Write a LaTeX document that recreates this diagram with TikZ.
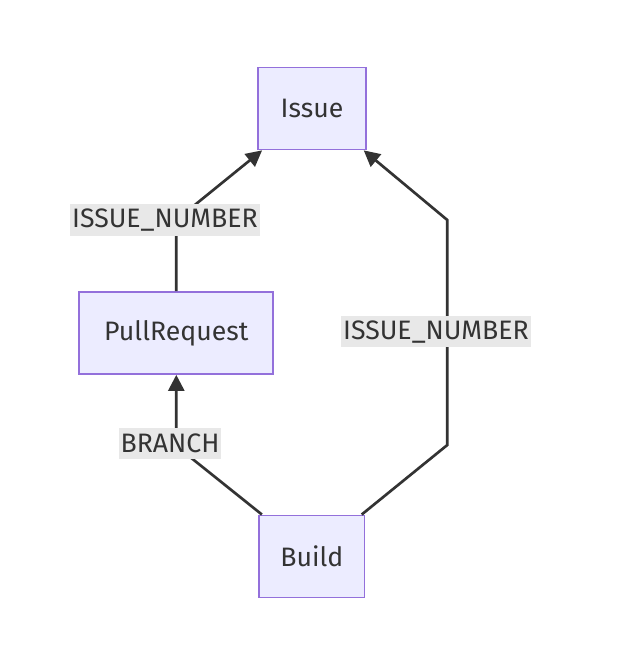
\documentclass[tikz,border=0pt]{standalone}
\usepackage{fontspec}
\setmainfont{Fira Sans}
\usepackage{xcolor}
\usepackage{tikz}
\usetikzlibrary{arrows.meta}
\definecolor{boxfill}{HTML}{ECECFF}
\definecolor{boxline}{HTML}{9370DB}
\definecolor{labelbg}{HTML}{E8E8E8}
\definecolor{ink}{HTML}{333333}
\tikzstyle{entity} =[draw=boxline, fill=boxfill, line width=1.3pt, text=ink, minimum height=61.5pt, font=\fontsize{20}{24}\selectfont]
\tikzstyle{edgelabel} =[fill=labelbg, text=ink, inner xsep=1.5pt, inner ysep=0pt, minimum height=23.5pt, font=\fontsize{20}{24}\selectfont]
\tikzstyle{arrow} =[-{Triangle[length=12pt,width=12pt]}, line width=2pt, draw=ink]

\begin{document}
\begin{tikzpicture}[x=0.75pt,y=-0.75pt]
		\useasboundingbox (0,0) rectangle (636,660);
		\node (issue)[entity, minimum width=81pt] at (312,108.5) {Issue};
		\node (pr)[entity, minimum width=145.5pt] at (176.3,333) {PullRequest};
		\node (build)[entity, minimum width=79pt] at (311.8,556.4) {Build};
		\coordinate (prup) at (176.3,220);
		\coordinate (prdown) at (176.3,446);
		\coordinate (rlow) at (447.3,445);
		\coordinate (rhigh) at (447.3,220);
		\draw[arrow] (pr.north) -- (prup) -- (issue.220);
		\draw[arrow] (build.140) -- (prdown) -- (pr.south);
		\draw[arrow] (build.40) -- (rlow) -- (rhigh) -- (issue.-39);
		\node (lbla)[edgelabel] at (165,220) {ISSUE\_NUMBER};
		\node (lblb)[edgelabel] at (170,443.7) {BRANCH};
		\node (lblc)[edgelabel] at (436,331.7) {ISSUE\_NUMBER};
\end{tikzpicture}
\end{document}
